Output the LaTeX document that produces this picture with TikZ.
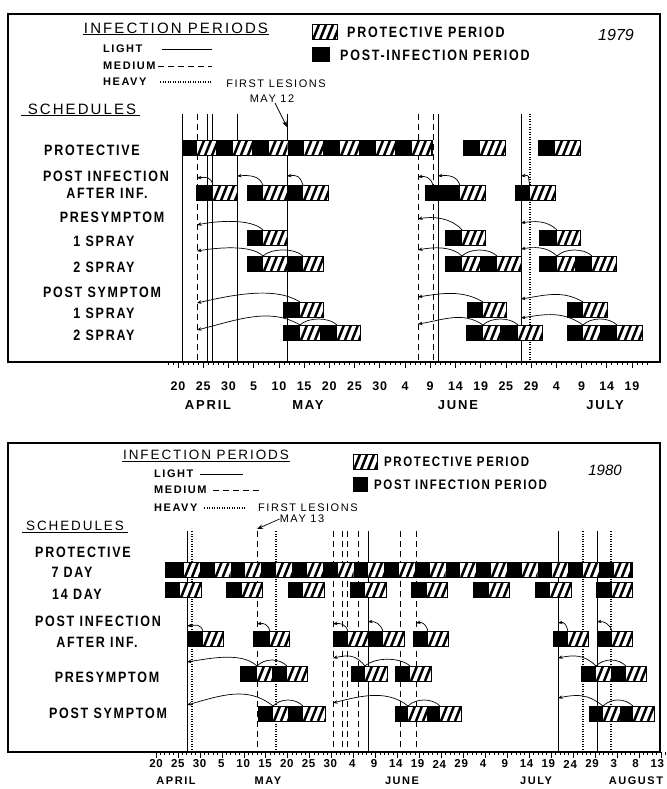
\documentclass[tikz,border=0pt]{standalone}
\usepackage{graphicx}
\usepackage{fontspec}
\setmainfont{Liberation Sans}
\newfontfamily\lettering[LetterSpace=6]{Liberation Sans}
\newfontfamily\widelettering[LetterSpace=14]{Liberation Sans}
\usetikzlibrary{arrows.meta}

% stencil lettering is taller than it is wide
\newcommand\tall[1]{\scalebox{1}[1.2]{#1}}
% half height of a spray bar
\newcommand\bh{7.5}
% hatched (protective) part of a bar
\newcommand\hatch[3]{%
  \fill[white] (#1,#3-\bh) rectangle (#2,#3+\bh);
  \begin{scope}
    \clip (#1,#3-\bh) rectangle (#2,#3+\bh);
    \foreach \s in {4,11,...,46}
      \draw[slash] (#1+\s-3,#3+\bh) -- (#1+\s+3,#3-\bh);
  \end{scope}}
% one spray: black post-infection part, then hatched part
\newcommand\spray[5]{%
  \fill (#2,#5-\bh) rectangle (#3,#5+\bh);
  \hatch{#3}{#4}{#5}
  \draw[box] (#2,#5-\bh) rectangle (#4,#5+\bh);
  \coordinate (#1) at (#3,#5-\bh);}

\begin{document}
\begin{tikzpicture}[
    x=1pt, y=-1pt,
    >=Stealth,
    frame/.style={line width=1.1pt},
    box/.style={line width=1pt},
    slash/.style={line width=2.5pt},
    lightln/.style={line width=0.8pt},
    mediumln/.style={line width=0.8pt, dash pattern=on 6pt off 4pt},
    heavyln/.style={line width=1.5pt, dash pattern=on 1pt off 1.5pt},
    infarc/.style={-{Stealth[length=4.5pt,width=3.5pt]}, line width=0.7pt},
    linkarc/.style={line width=0.7pt},
    tick/.style={line width=0.6pt},
    hdr/.style={font=\widelettering\fontsize{15}{16}\selectfont, inner sep=1pt},
    lgd/.style={font=\widelettering\bfseries\fontsize{11}{12}\selectfont, inner sep=0pt},
    note/.style={font=\widelettering\fontsize{11}{12}\selectfont, inner sep=0pt},
    key/.style={font=\widelettering\bfseries\fontsize{12.5}{14}\selectfont, inner sep=0pt},
    lbl/.style={font=\widelettering\bfseries\fontsize{12.5}{14}\selectfont, inner sep=0pt},
    daylbl/.style={font=\lettering\bfseries\fontsize{12.5}{13}\selectfont, inner sep=0pt},
    month/.style={font=\widelettering\bfseries\fontsize{13}{14}\selectfont, inner sep=0pt},
    year/.style={font=\itshape\fontsize{16}{16}\selectfont, inner sep=0pt}
  ]
\useasboundingbox (0,0) rectangle (666,789);

%%% 1979
\draw[frame] (8,14) rectangle (660,362);
\node[hdr] (inf79) at (176,28) {INFECTION PERIODS};
\draw (inf79.south west) -- (inf79.south east);
\node[lgd, anchor=west] (lt79) at (103,49) {LIGHT};
\node[lgd, anchor=west] (md79) at (103,66) {MEDIUM};
\node[lgd, anchor=west] (hv79) at (103,82) {HEAVY};
\draw[lightln] (162,49) -- (212,49);
\draw[mediumln] (158,66) -- (212,66);
\draw[heavyln] (160,82) -- (212,82);
\node[note] (les79) at (276,84) {FIRST LESIONS};
\node[note] (may12) at (272,99) {MAY 12};
\node[hdr] (sch79) at (82,109) {SCHEDULES};
\draw ([xshift=-6pt]sch79.south west) -- ([xshift=3pt]sch79.south east);

\hatch{312}{337}{32}
\draw[box] (312,32-\bh) rectangle (337,32+\bh);
\fill (312,55-\bh) rectangle (330,55+\bh);
\node[key, anchor=west] (kp79) at (347,32) {\tall{PROTECTIVE PERIOD}};
\node[key, anchor=west] (ki79) at (340,55) {\tall{POST-INFECTION PERIOD}};
\node[year] (yr79) at (616,35) {1979};

\foreach \t/\x/\y [count=\i] in {PROTECTIVE/92/150, POST INFECTION/106/176,
    AFTER INF./107/193, PRESYMPTOM/112/217, 1 SPRAY/104/241, 2 SPRAY/104/267,
    POST SYMPTOM/102/292, 1 SPRAY/104/313, 2 SPRAY/104/335}
  \node[lbl] (r79\i) at (\x,\y) {\tall{\t}};

% infection periods
\foreach \x/\s [count=\i] in {182/lightln, 197/mediumln, 207/lightln, 212/lightln,
    237/lightln, 287/lightln, 418/mediumln, 433/mediumln, 438/lightln,
    521/lightln, 530/heavyln}
  \draw[\s] (\x,114) coordinate (t\i) -- (\x,362);
\draw[->, line width=0.7pt] ([xshift=3pt]may12.south) -- (t6 |- 0,127);

% protective, every 7 days
\fill (182,148-\bh) rectangle (432,148+\bh);
\foreach \k in {0,...,6} {\hatch{197+35.8*\k}{216+35.8*\k}{148}}
\draw[box] (182,148-\bh) rectangle (432,148+\bh);
\spray{pr1}{463}{480}{505}{148}
\spray{pr2}{538}{555}{580}{148}

% post infection
\spray{a1}{196}{213}{237}{193}
\spray{a2}{247}{263}{287}{193}
\spray{a3}{287}{303}{328}{193}
\spray{a4}{425}{460}{485}{193}
\spray{a5}{515}{530}{555}{193}
\draw[infarc] (a1) .. controls +(-2,-9) and +(9,-1) .. (t2 |- 0,178);
\draw[infarc] (a2) .. controls +(-3,-10) and +(12,-1) .. (t5 |- 0,176);
\draw[infarc] (a3) .. controls +(-3,-10) and +(10,-1) .. (t6 |- 0,176);
\draw[infarc] ([xshift=-27pt]a4) .. controls +(-2,-9) and +(6,-1) .. (t7 |- 0,177);
\draw[infarc] (a4) .. controls +(-3,-10) and +(10,-1) .. (t9 |- 0,176);
\draw[infarc] (a5) .. controls +(-3,-10) and +(10,-1) .. (t10 |- 0,176);

% presymptom
\spray{p1}{247}{263}{287}{237.5}
\spray{p2}{445}{462}{485}{237.5}
\spray{p3}{539}{557}{580}{237.5}
\draw[infarc] (p1) .. controls +(-12,-12) and +(18,-4) .. (t2 |- 0,225);
\draw[infarc] (p2) .. controls +(-10,-12) and +(15,-3) .. (t7 |- 0,219);
\draw[infarc] (p3) .. controls +(-10,-10) and +(12,-2) .. (t10 |- 0,223);

\spray{q1}{247}{263}{287}{263.5}
\spray{q1b}{287}{303}{323}{263.5}
\spray{q2}{445}{462}{480}{263.5}
\spray{q2b}{480}{497}{521}{263.5}
\spray{q3}{539}{557}{575}{263.5}
\spray{q3b}{575}{592}{616}{263.5}
\draw[infarc] (q1) .. controls +(-12,-12) and +(18,-3) .. (t2 |- 0,251);
\draw[infarc] (q2) .. controls +(-10,-10) and +(15,-3) .. (t7 |- 0,250);
\draw[infarc] (q3) .. controls +(-10,-10) and +(12,-2) .. (t10 |- 0,249);
\draw[linkarc] (q1b) .. controls +(-8,-8) and +(8,-8) .. (q1);
\draw[linkarc] (q2b) .. controls +(-8,-8) and +(8,-8) .. (q2);
\draw[linkarc] (q3b) .. controls +(-8,-8) and +(8,-8) .. (q3);

% post symptom
\spray{r1}{283}{300}{323}{309.5}
\spray{r2}{467}{483}{506}{309.5}
\spray{r3}{567}{583}{607}{309.5}
\draw[infarc] (r1) .. controls +(-25,-16) and +(35,-8) .. (t2 |- 0,303);
\draw[infarc] (r2) .. controls +(-20,-12) and +(25,-4) .. (t7 |- 0,297);
\draw[infarc] (r3) .. controls +(-20,-12) and +(25,-4) .. (t10 |- 0,299);

\spray{s1}{283}{300}{320}{332.5}
\spray{s1b}{320}{337}{360}{332.5}
\spray{s2}{466}{483}{500}{332.5}
\spray{s2b}{500}{518}{542}{332.5}
\spray{s3}{567}{583}{600}{332.5}
\spray{s3b}{600}{617}{642}{332.5}
\draw[infarc] (s1) .. controls +(-30,-18) and +(40,-10) .. (t2 |- 0,330);
\draw[infarc] (s2) .. controls +(-20,-14) and +(25,-4) .. (t7 |- 0,324);
\draw[infarc] (s3) .. controls +(-20,-14) and +(25,-4) .. (t10 |- 0,318);
\draw[linkarc] (s1b) .. controls +(-8,-8) and +(8,-8) .. (s1);
\draw[linkarc] (s2b) .. controls +(-8,-8) and +(8,-8) .. (s2);
\draw[linkarc] (s3b) .. controls +(-8,-8) and +(8,-8) .. (s3);

% date scale
\draw[tick] (165,362) -- (650,362);
\foreach \d in {-2,...,93} \draw[tick] ({178+5.044*\d},362) -- ++(0,3);
\foreach \d in {0,5,...,90} \draw[tick] ({178+5.044*\d},362) -- ++(0,6);
\foreach \l [count=\i from 0] in {20,25,30,5,10,15,20,25,30,4,9,14,19,25,29,4,9,14,19}
  \node[daylbl] (d79\i) at ({178+25.22*\i},386) {\l};
\foreach \m/\x in {APRIL/208, MAY/308, JUNE/458, JULY/605}
  \node[month] (m79\m) at (\x,405) {\m};

%%% 1980
\begin{scope}[
    hdr/.style={font=\widelettering\fontsize{13.5}{15}\selectfont, inner sep=1pt},
    key/.style={font=\widelettering\bfseries\fontsize{11.5}{13}\selectfont, inner sep=0pt},
    daylbl/.style={font=\lettering\bfseries\fontsize{11.5}{13}\selectfont, inner sep=0pt},
    month/.style={font=\widelettering\bfseries\fontsize{11}{12}\selectfont, inner sep=0pt},
    year/.style={font=\itshape\fontsize{15}{15}\selectfont, inner sep=0pt}
  ]
\draw[frame] (8,443) rectangle (660,752);
\node[hdr] (inf80) at (206,455) {INFECTION PERIODS};
\draw (inf80.south west) -- (inf80.south east);
\node[lgd, anchor=west] (lt80) at (154,474) {LIGHT};
\node[lgd, anchor=west] (md80) at (154,490) {MEDIUM};
\node[lgd, anchor=west] (hv80) at (154,508) {HEAVY};
\draw[lightln] (200,474) -- (243,474);
\draw[mediumln] (213,490) -- (262,490);
\draw[heavyln] (204,508) -- (245,508);
\node[note, anchor=west] (les80) at (258,508) {FIRST LESIONS};
\node[note] (may13) at (302,519) {MAY 13};
\node[hdr] (sch80) at (75,526) {SCHEDULES};
\draw ([xshift=-3pt]sch80.south west) -- ([xshift=3pt]sch80.south east);

\hatch{353}{377}{462}
\draw[box] (353,462-\bh) rectangle (377,462+\bh);
\fill (353,484.5-\bh) rectangle (368,484.5+\bh);
\node[key, anchor=west] (kp80) at (384,462) {\tall{PROTECTIVE PERIOD}};
\node[key, anchor=west] (ki80) at (374,485) {\tall{POST INFECTION PERIOD}};
\node[year] (yr80) at (605,470) {1980};

\foreach \t/\x/\y [count=\i] in {PROTECTIVE/83/552, 7 DAY/72/572, 14 DAY/77/594,
    POST INFECTION/98/621, AFTER INF./97/642, PRESYMPTOM/107/677,
    POST SYMPTOM/108/713}
  \node[lbl] (r80\i) at (\x,\y) {\tall{\t}};

% infection periods
\foreach \x/\s [count=\i] in {187/lightln, 192/heavyln, 257/mediumln, 276/heavyln,
    333/mediumln, 342/mediumln, 347/mediumln, 358/mediumln, 368/lightln,
    400/mediumln, 416/mediumln, 558/lightln, 583/heavyln, 597/lightln, 611/heavyln}
  \draw[\s] (\x,531) coordinate (u\i) -- (\x,752);
\draw[->, line width=0.7pt] (may13.west) -- (u3 |- 0,529);

% protective, 7 and 14 days
\fill (165,569.5-\bh) rectangle (632,569.5+\bh);
\foreach \k in {0,...,14} {\hatch{184+30.7*\k}{200+30.7*\k}{569.5}}
\draw[box] (165,569.5-\bh) rectangle (632,569.5+\bh);
\foreach \k in {0,...,7} {\spray{f\k}{165+61.7*\k}{180+61.7*\k}{201+61.7*\k}{590}}

% post infection
\spray{b1}{187}{203}{223}{639}
\spray{b2}{253}{270}{289}{639}
\spray{b3}{333}{348}{368}{639}
\spray{b4}{368}{383}{404}{639}
\spray{b5}{413}{428}{448}{639}
\spray{b6}{553}{568}{588}{639}
\spray{b7}{597}{612}{632}{639}
\draw[infarc] (b1) .. controls +(-2,-8) and +(8,-1) .. (u1 |- 0,626);
\draw[infarc] (b2) .. controls +(-2,-8) and +(6,-1) .. (u3 |- 0,624);
\draw[infarc] (b3) .. controls +(-2,-8) and +(6,-1) .. (u5 |- 0,624);
\draw[infarc] (b4) .. controls +(-2,-8) and +(6,-1) .. (u9 |- 0,622);
\draw[infarc] (b5) .. controls +(-2,-8) and +(6,-1) .. (u11 |- 0,623);
\draw[infarc] (b6) .. controls +(-2,-8) and +(6,-1) .. (u12 |- 0,623);
\draw[infarc] (b7) .. controls +(-2,-8) and +(6,-1) .. (u14 |- 0,622);

% presymptom
\spray{c1}{240}{257}{272}{673.5}
\spray{c1b}{272}{287}{307}{673.5}
\spray{c2}{351}{365}{387}{673.5}
\spray{c3}{395}{410}{431}{673.5}
\spray{c4}{581}{596}{611}{673.5}
\spray{c4b}{611}{626}{646}{673.5}
\draw[infarc] (c1) .. controls +(-15,-14) and +(25,-4) .. (u1 |- 0,662);
\draw[infarc] (c2) .. controls +(-10,-12) and +(15,-3) .. (u5 |- 0,658);
\draw[infarc] (c4) .. controls +(-12,-12) and +(15,-3) .. (u12 |- 0,658);
\draw[linkarc] (c1b) .. controls +(-8,-8) and +(8,-8) .. (c1);
\draw[linkarc] (c3) .. controls +(-10,-9) and +(10,-9) .. (c2);
\draw[linkarc] (c4b) .. controls +(-8,-8) and +(8,-8) .. (c4);

% post symptom
\spray{e1}{258}{273}{288}{713.5}
\spray{e1b}{288}{303}{325}{713.5}
\spray{e2}{395}{408}{427}{713.5}
\spray{e2b}{427}{440}{461}{713.5}
\spray{e3}{589}{603}{620}{713.5}
\spray{e3b}{620}{633}{654}{713.5}
\draw[infarc] (e1) .. controls +(-25,-20) and +(35,-10) .. (u1 |- 0,705);
\draw[infarc] (e2) .. controls +(-20,-16) and +(30,-8) .. (u5 |- 0,703);
\draw[infarc] (e3) .. controls +(-15,-12) and +(20,-4) .. (u12 |- 0,698);
\draw[linkarc] (e1b) .. controls +(-8,-8) and +(8,-8) .. (e1);
\draw[linkarc] (e2b) .. controls +(-8,-8) and +(8,-8) .. (e2);
\draw[linkarc] (e3b) .. controls +(-8,-8) and +(8,-8) .. (e3);

% date scale
\draw[tick] (156,752) -- (662,752);
\foreach \d in {0,...,116} \draw[tick] ({156+4.39*\d},752) -- ++(0,3);
\foreach \d in {0,5,...,115} \draw[tick] ({156+4.39*\d},752) -- ++(0,6);
\foreach \l [count=\i from 0] in {20,25,30,5,10,15,20,25,30,4,9,14,19,24,29,4,9,14,19,24,29,3,8,13}
  \node[daylbl] (d80\i) at ({156+21.8*\i},764) {\l};
\foreach \m/\x in {APRIL/176, MAY/268, JUNE/402, JULY/536, AUGUST/636}
  \node[month] (m80\m) at (\x,781) {\m};
\end{scope}
\end{tikzpicture}
\end{document}
